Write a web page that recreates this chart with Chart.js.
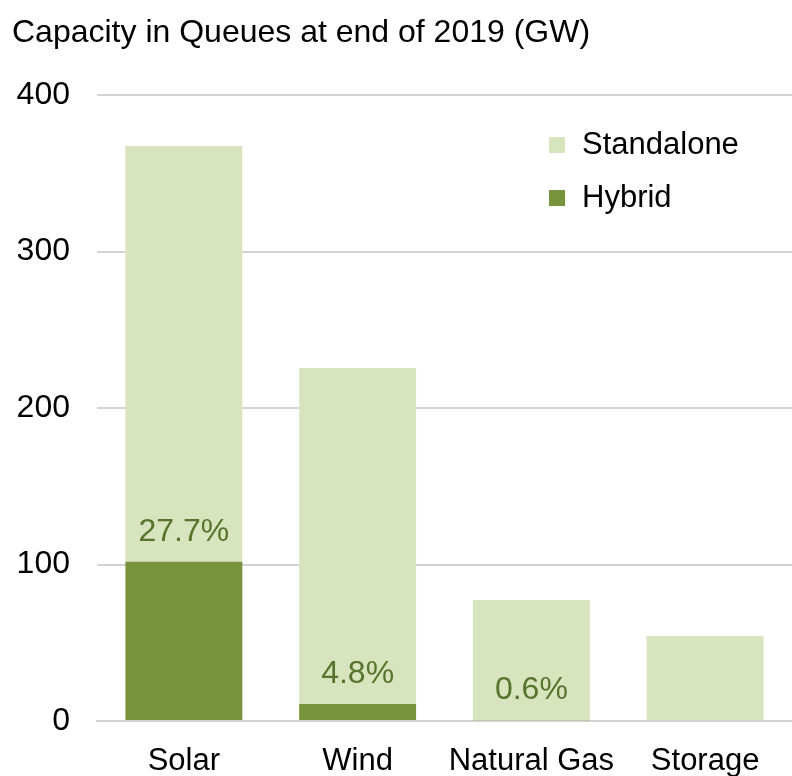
<!DOCTYPE html>
<html>
<head>
<meta charset="utf-8">
<title>Capacity in Queues</title>
<script src="https://cdn.jsdelivr.net/npm/chart.js@4/dist/chart.umd.min.js"></script>
<style>
  html, body { margin: 0; padding: 0; background: #fff; }
  #wrap { width: 792px; height: 776px; position: relative; }
</style>
</head>
<body>
<div id="wrap"><canvas id="queueChart"></canvas></div>
<script>
// capacity in queues, GW
const categories = ['Solar', 'Wind', 'Natural Gas', 'Storage'];
const hybridGW = [101.7, 10.8, 0.46, 0];
const standaloneGW = [265.7, 214.8, 76.8, 54.3];
const hybridShare = ['27.7%', '4.8%', '0.6%', ''];
const yTicks = [0, 100, 200, 300, 400];

const FONT = "'Liberation Sans', Arial, sans-serif";
const HYBRID = '#77933c';
const STANDALONE = '#d7e4bd';

// hybrid share written just above the dark segment
const shareLabels = {
  id: 'shareLabels',
  afterDatasetsDraw(chart) {
    const ctx = chart.ctx;
    const bars = chart.getDatasetMeta(0).data;
    ctx.save();
    ctx.font = '32px ' + FONT;
    ctx.fillStyle = '#56742b';
    ctx.textAlign = 'center';
    ctx.textBaseline = 'middle';
    bars.forEach((bar, i) => {
      if (!hybridShare[i]) return;
      ctx.fillText(hybridShare[i], bar.x, bar.y - 30);
    });
    ctx.restore();
  }
};

// legend box inside the plot, top right
const sideLegend = {
  id: 'sideLegend',
  afterDraw(chart) {
    const ctx = chart.ctx;
    const area = chart.chartArea;
    const items = chart.data.datasets.slice().reverse();
    ctx.save();
    ctx.font = '31px ' + FONT;
    ctx.textBaseline = 'middle';
    ctx.textAlign = 'left';
    items.forEach((ds, i) => {
      const y = area.top + 50 + i * 53;
      ctx.fillStyle = ds.backgroundColor;
      ctx.fillRect(area.right - 243, y - 8, 16, 16);
      ctx.fillStyle = '#000';
      ctx.fillText(ds.label, area.right - 210, y);
    });
    ctx.restore();
  }
};

new Chart(document.getElementById('queueChart'), {
  type: 'bar',
  data: {
    labels: categories,
    datasets: [
      { label: 'Hybrid', data: hybridGW, backgroundColor: HYBRID },
      { label: 'Standalone', data: standaloneGW, backgroundColor: STANDALONE }
    ]
  },
  options: {
    responsive: true,
    maintainAspectRatio: false,
    animation: false,
    layout: { padding: { left: 12, right: 0, top: 0, bottom: 0 } },
    datasets: { bar: { categoryPercentage: 1, barPercentage: 0.673 } },
    plugins: {
      legend: { display: false },
      tooltip: { enabled: false },
      title: {
        display: true,
        text: 'Capacity in Queues at end of 2019 (GW)',
        align: 'start',
        color: '#000',
        font: { family: FONT, size: 32, weight: 'normal', lineHeight: 1.2 },
        padding: { top: 14, bottom: 42.6 }
      }
    },
    scales: {
      x: {
        stacked: true,
        grid: { display: false, drawTicks: false },
        border: { display: true, color: '#d4d4d4', width: 2 },
        ticks: { color: '#000', font: { family: FONT, size: 31, lineHeight: 1.2 }, padding: 22 },
        afterFit(s) { s.height = 55; }
      },
      y: {
        stacked: true,
        min: 0,
        max: 400,
        afterBuildTicks(s) { s.ticks = yTicks.map(v => ({ value: v })); },
        grid: { color: '#d4d4d4', lineWidth: 2, drawTicks: false },
        border: { display: false },
        ticks: { color: '#000', font: { family: FONT, size: 32 }, padding: 27 },
        afterFit(s) { s.width = 85; }
      }
    }
  },
  plugins: [shareLabels, sideLegend]
});
</script>
</body>
</html>
